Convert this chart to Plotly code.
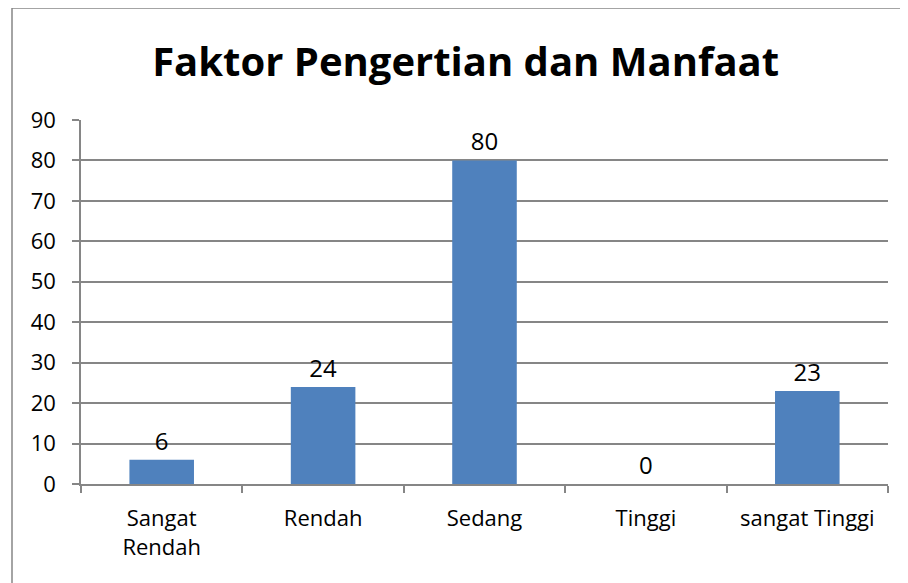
import plotly.graph_objects as go

categories = ["Sangat<br>Rendah", "Rendah", "Sedang", "Tinggi", "sangat Tinggi"]
values = [6, 24, 80, 0, 23]
y_ticks = [0, 10, 20, 30, 40, 50, 60, 70, 80, 90]

BAR_BLUE = "#4F81BD"
AXIS_GRAY = "#868686"
FONT = "'Open Sans', Arial, sans-serif"

fig = go.Figure(go.Bar(
    x=categories,
    y=values,
    marker=dict(color=BAR_BLUE, line=dict(width=0)),
    width=0.4,
    text=[str(v) for v in values],
    textposition="outside",
    textfont=dict(size=24, color="#000000"),
    cliponaxis=False,
))

fig.update_layout(
    width=908,
    height=583,
    font=dict(family=FONT, color="#000000"),
    plot_bgcolor="white",
    paper_bgcolor="white",
    margin=dict(l=73, r=28, t=112, b=107),
    showlegend=False,
    title=dict(
        text="<b>Faktor Pengertian dan Manfaat</b>",
        x=0.504, xanchor="center",
        y=0.907, yanchor="middle",
        font=dict(size=40, family=FONT),
    ),
    # outer chart border (Excel style)
    shapes=[dict(
        type="rect", xref="paper", yref="paper",
        x0=-0.0855, x1=1.2, y0=-0.5, y1=1.3077,
        line=dict(color=AXIS_GRAY, width=1.5),
        fillcolor="rgba(0,0,0,0)",
        layer="below",
    )],
)

fig.update_xaxes(
    type="category",
    showline=True, linecolor=AXIS_GRAY, linewidth=1.5,
    ticks="outside", tickson="boundaries", ticklen=7, tickcolor=AXIS_GRAY, tickwidth=1.5,
    tickfont=dict(size=22),
    ticklabelstandoff=14,
    showgrid=False,
)
fig.update_yaxes(
    range=[0, 90],
    tickvals=y_ticks,
    showline=True, linecolor=AXIS_GRAY, linewidth=1.5,
    ticks="outside", ticklen=7, tickcolor=AXIS_GRAY, tickwidth=1.5,
    tickfont=dict(size=22),
    ticklabelstandoff=12,
    showgrid=True, gridcolor=AXIS_GRAY, gridwidth=1.5,
    zeroline=False,
)

fig.write_html("out.html")
